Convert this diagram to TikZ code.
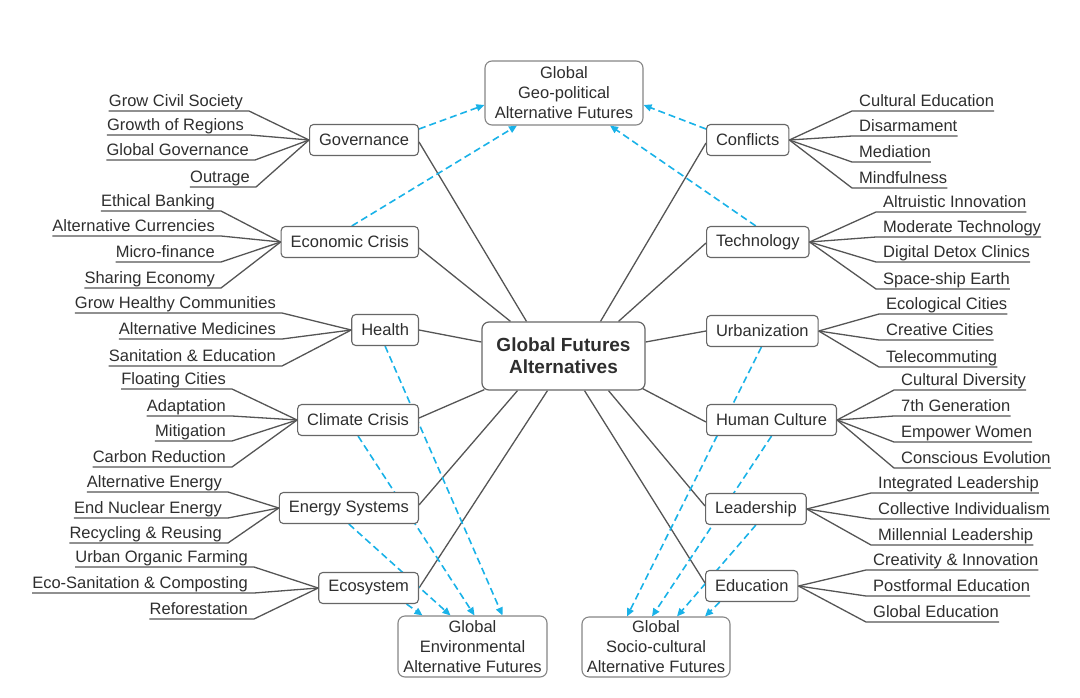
\documentclass[tikz,border=0pt]{standalone}
\usepackage{fontspec}
\setmainfont{Liberation Sans}
\usetikzlibrary{arrows.meta,backgrounds}
\definecolor{txt}{HTML}{2E2E2E}
\definecolor{ln}{HTML}{555555}
\definecolor{bx}{HTML}{666666}
\definecolor{dashc}{RGB}{25,178,232}
\tikzset{
  base font/.style={font=\fontsize{16.5}{19}\selectfont},
  cat/.style={base font, draw=bx, line width=1.1pt, rounded corners=4pt, fill=white, text=txt,
    minimum height=31pt, inner xsep=9.5pt, inner ysep=0pt},
  hubbox/.style={draw=bx, line width=1.2pt, rounded corners=7pt, fill=white, text=txt,
    font=\fontsize{19}{22}\selectfont\bfseries, align=center, minimum width=163pt, minimum height=68pt, inner sep=0pt},
  outbox/.style={draw=bx!80, line width=1.1pt, rounded corners=7pt, fill=white, text=txt,
    font=\fontsize{16.5}{20}\selectfont, align=center, inner sep=0pt},
  leaf/.style={base font, inner sep=0pt, text=txt},
  leafline/.style={draw=ln, line width=1.3pt},
  conn/.style={draw=ln, line width=1.3pt},
  dsh/.style={draw=dashc, line width=1.6pt, dash pattern=on 7pt off 4pt, -{Triangle[length=8pt,width=7pt]}},
}
\newcommand{\lleaf}[5]{%
  \node[leaf, anchor=base east] (#1) at (#2,#3-5) {#4};
  \draw[leafline] ([yshift=-5pt]#1.base west) -- ([yshift=-5pt,xshift=6pt]#1.base east) -- (#5.west);
}
\newcommand{\rleaf}[5]{%
  \node[leaf, anchor=base west] (#1) at (#2,#3-5) {#4};
  \draw[leafline] ([yshift=-5pt]#1.base east) -- ([yshift=-5pt,xshift=-7pt]#1.base west) -- (#5.east);
}
\begin{document}
\begin{tikzpicture}[x=1pt,y=-1pt]
\useasboundingbox (0,0) rectangle (1080,697);

% central and outcome nodes
\node[hubbox] (hub) at (563.5,356) {Global Futures\\Alternatives};
\node[outbox, minimum width=158pt, minimum height=64pt] (geo) at (564,93) {Global\\Geo-political\\Alternative Futures};
\node[outbox, minimum width=149pt, minimum height=61pt] (env) at (472.5,646.5) {Global\\Environmental\\Alternative Futures};
\node[outbox, minimum width=148pt, minimum height=60pt] (soc) at (656,647) {Global\\Socio-cultural\\Alternative Futures};

% left categories
\node[cat, anchor=east] (gov) at (419,140) {Governance};
\node[cat, anchor=east] (econ) at (419,242) {Economic Crisis};
\node[cat, anchor=east] (health) at (419,330) {Health};
\node[cat, anchor=east] (clim) at (419,420) {Climate Crisis};
\node[cat, anchor=east] (ener) at (419,508) {Energy Systems};
\node[cat, anchor=east] (ecos) at (419,588) {Ecosystem};

% right categories
\node[cat, anchor=west] (conf) at (706,140) {Conflicts};
\node[cat, anchor=west] (tech) at (706,242) {Technology};
\node[cat, anchor=west] (urb) at (706,331) {Urbanization};
\node[cat, anchor=west] (hum) at (706,420) {Human Culture};
\node[cat, anchor=west] (lead) at (705,509) {Leadership};
\node[cat, anchor=west] (educ) at (705,586) {Education};

% left leaves
\lleaf{g1}{243}{111}{Grow Civil Society}{gov}
\lleaf{g2}{244}{135}{Growth of Regions}{gov}
\lleaf{g3}{249}{160}{Global Governance}{gov}
\lleaf{g4}{250}{187}{Outrage}{gov}
\lleaf{e1}{215}{211}{Ethical Banking}{econ}
\lleaf{e2}{215}{236}{Alternative Currencies}{econ}
\lleaf{e3}{215}{262}{Micro-finance}{econ}
\lleaf{e4}{215}{288}{Sharing Economy}{econ}
\lleaf{h1}{276}{313}{Grow Healthy Communities}{health}
\lleaf{h2}{276}{339}{Alternative Medicines}{health}
\lleaf{h3}{276}{366}{Sanitation \& Education}{health}
\lleaf{c1}{226}{389}{Floating Cities}{clim}
\lleaf{c2}{226}{416}{Adaptation}{clim}
\lleaf{c3}{226}{441}{Mitigation}{clim}
\lleaf{c4}{226}{467}{Carbon Reduction}{clim}
\lleaf{n1}{222}{492}{Alternative Energy}{ener}
\lleaf{n2}{222}{518}{End Nuclear Energy}{ener}
\lleaf{n3}{222}{543}{Recycling \& Reusing}{ener}
\lleaf{s1}{248}{567}{Urban Organic Farming}{ecos}
\lleaf{s2}{248}{593}{Eco-Sanitation \& Composting}{ecos}
\lleaf{s3}{248}{619}{Reforestation}{ecos}

% right leaves
\rleaf{k1}{859}{111}{Cultural Education}{conf}
\rleaf{k2}{859}{136}{Disarmament}{conf}
\rleaf{k3}{859}{162}{Mediation}{conf}
\rleaf{k4}{859}{188}{Mindfulness}{conf}
\rleaf{t1}{883}{212}{Altruistic Innovation}{tech}
\rleaf{t2}{883}{237}{Moderate Technology}{tech}
\rleaf{t3}{883}{262}{Digital Detox Clinics}{tech}
\rleaf{t4}{883}{289}{Space-ship Earth}{tech}
\rleaf{u1}{886}{314}{Ecological Cities}{urb}
\rleaf{u2}{886}{340}{Creative Cities}{urb}
\rleaf{u3}{886}{367}{Telecommuting}{urb}
\rleaf{m1}{901}{390}{Cultural Diversity}{hum}
\rleaf{m2}{901}{416}{7th Generation}{hum}
\rleaf{m3}{901}{442}{Empower Women}{hum}
\rleaf{m4}{901}{468}{Conscious Evolution}{hum}
\rleaf{l1}{878}{493}{Integrated Leadership}{lead}
\rleaf{l2}{878}{519}{Collective Individualism}{lead}
\rleaf{l3}{878}{545}{Millennial Leadership}{lead}
\rleaf{d1}{873}{570}{Creativity \& Innovation}{educ}
\rleaf{d2}{873}{596}{Postformal Education}{educ}
\rleaf{d3}{873}{622}{Global Education}{educ}

\begin{pgfonlayer}{background}
% solid links to hub
\draw[conn] ([yshift=-2pt]gov.east) -- ([xshift=-37pt]hub.north);
\draw[conn] ([yshift=-6pt]econ.east) -- ([xshift=-53pt]hub.north);
\draw[conn] (health.east) -- ([yshift=14pt]hub.west);
\draw[conn] ([yshift=2pt]clim.east) -- ([xshift=3pt,yshift=1pt]hub.south west);
\draw[conn] ([yshift=3pt]ener.east) -- ([xshift=-46pt]hub.south);
\draw[conn] (ecos.east) -- ([xshift=-16pt]hub.south);
\draw[conn] ([yshift=-3pt]conf.west) -- ([xshift=37pt]hub.north);
\draw[conn] ([yshift=-1pt]tech.west) -- ([xshift=55pt]hub.north);
\draw[conn] (urb.west) -- ([yshift=14pt]hub.east);
\draw[conn] ([yshift=-2pt]hum.west) -- ([xshift=-3pt,yshift=2pt]hub.south east);
\draw[conn] ([yshift=3pt]lead.west) -- ([xshift=45pt]hub.south);
\draw[conn] ([yshift=3pt]educ.west) -- ([xshift=21pt]hub.south);

% dashed arrows to outcome boxes
\draw[dsh] ([yshift=11pt]gov.east) -- ([yshift=-12pt]geo.west);
\draw[dsh] ([xshift=2pt]econ.north) -- ([xshift=-47pt]geo.south);
\draw[dsh] ([yshift=11pt]conf.west) -- ([yshift=-12pt]geo.east);
\draw[dsh] ([xshift=-2pt]tech.north) -- ([xshift=46pt]geo.south);

\draw[dsh] (health.south) -- ([xshift=30pt]env.north);
\draw[dsh] (clim.south) -- ([xshift=2pt]env.north);
\draw[dsh] (ener.south) -- ([xshift=-22pt]env.north);
\draw[dsh] ([xshift=38pt]ecos.south) -- ([xshift=-50pt]env.north);

\draw[dsh] ([xshift=-1pt]urb.south) -- ([xshift=-29pt]soc.north);
\draw[dsh] (hum.south) -- ([xshift=-4pt]soc.north);
\draw[dsh] (lead.south) -- ([xshift=21pt]soc.north);
\draw[dsh] ([xshift=-32pt]educ.south) -- ([xshift=49pt]soc.north);
\end{pgfonlayer}
\end{tikzpicture}
\end{document}
